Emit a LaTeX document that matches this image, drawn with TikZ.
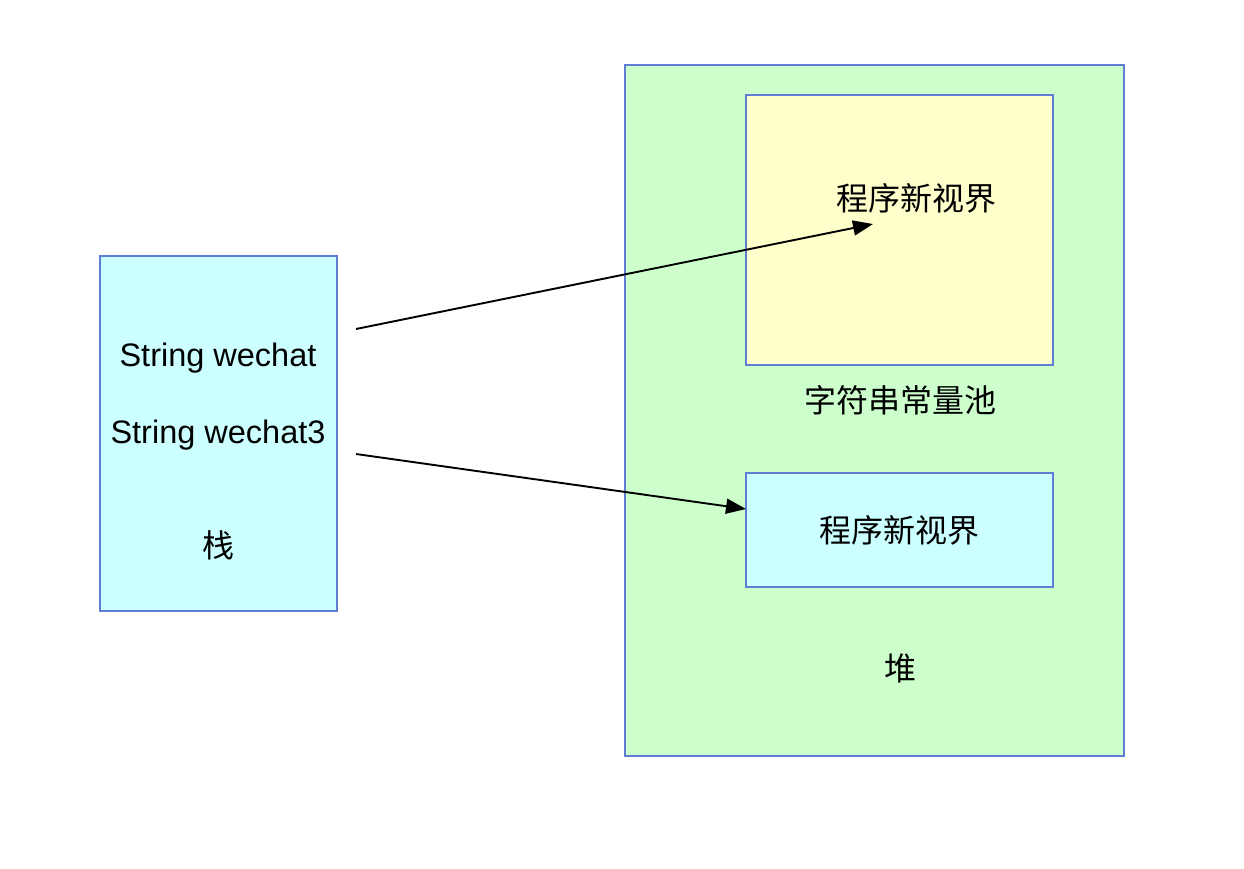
\documentclass[tikz,border=0pt]{standalone}
\usepackage{fontspec}
\setmainfont{Liberation Sans}
\newfontfamily\cjk{Noto Sans CJK SC}
\usetikzlibrary{arrows.meta}
\definecolor{bordc}{RGB}{95,125,210}
\definecolor{cyanf}{HTML}{CCFFFF}
\definecolor{greenf}{HTML}{CCFFCC}
\definecolor{yellf}{HTML}{FFFFCC}
\tikzset{
  box/.style={draw=bordc, line width=1.8pt, inner sep=0pt, outer sep=0pt},
  lbl/.style={inner sep=0pt, font=\fontsize{32.5}{36}\selectfont},
  clbl/.style={inner sep=0pt, font=\fontsize{32}{36}\selectfont\cjk},
  arr/.style={line width=1.9pt, -{Triangle[length=20pt,width=15pt]}}
}
\begin{document}
\begin{tikzpicture}[x=1pt,y=-1pt]
\useasboundingbox (0,0) rectangle (1244,868);
% stack
\node[box, fill=cyanf, anchor=north west, minimum width=237pt, minimum height=355pt] (stack) at (100,256) {};
\node[lbl] (s1) at (218,358) {String wechat};
\node[lbl] (s2) at (218,435) {String wechat3};
\node[clbl] (zhan) at (218,545) {栈};
% heap
\node[box, fill=greenf, anchor=north west, minimum width=499pt, minimum height=691pt] (heap) at (625,65) {};
\node[box, fill=yellf, anchor=north west, minimum width=307pt, minimum height=270pt] (pool) at (746,95) {};
\node[clbl] (pooltxt) at (916,198) {程序新视界};
\node[clbl] (poollbl) at (900,400) {字符串常量池};
\node[box, fill=cyanf, anchor=north west, minimum width=307pt, minimum height=114pt] (obj) at (746,473) {};
\node[clbl] (objtxt) at (899,530) {程序新视界};
\node[clbl] (dui) at (900,668) {堆};
% connectors
\coordinate (a1s) at (356,329);
\coordinate (a1e) at (873,224);
\coordinate (a2s) at (356,454);
\draw[arr] (a1s) -- (a1e);
\draw[arr] (a2s) -- (obj.west |- 0,509);
\end{tikzpicture}
\end{document}
